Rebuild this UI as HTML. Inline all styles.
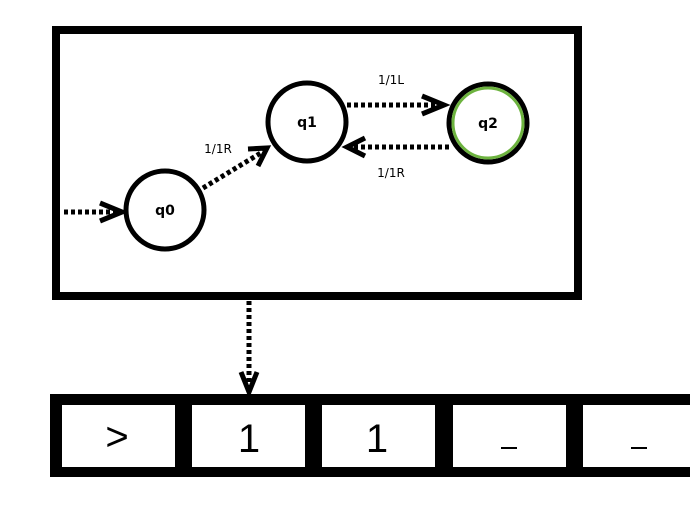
<!DOCTYPE html>
<html><head><style>body{margin:0;background:#fff}svg{display:block}</style></head><body>
<svg width="690" height="520" viewBox="0 0 690 520" xmlns="http://www.w3.org/2000/svg" font-family="'DejaVu Sans','Liberation Sans',sans-serif">
<rect x="56" y="30" width="522" height="266" fill="none" stroke="#000" stroke-width="8"/>
<g stroke="#000" stroke-width="5" fill="none" stroke-dasharray="4 3">
<line x1="64" y1="212" x2="120" y2="212"/>
<line x1="203" y1="188" x2="264" y2="151"/>
<line x1="347" y1="105" x2="440" y2="105"/>
<line x1="449" y1="147" x2="352" y2="147"/>
<line x1="249" y1="301" x2="249" y2="386"/>
</g>
<g stroke="#000" stroke-width="5" fill="none">
<polyline points="100,203 122,212 100,221"/>
<polyline points="248,149 267,148 258,166"/>
<polyline points="422,96 444,105 422,114"/>
<polyline points="365,138 347,147 365,156"/>
<polyline points="241,372 249,392 257,372"/>
</g>
<circle cx="165" cy="210" r="39" fill="#fff" stroke="#000" stroke-width="5"/>
<circle cx="307" cy="122" r="39" fill="#fff" stroke="#000" stroke-width="5"/>
<circle cx="488" cy="123" r="39" fill="#fff" stroke="#000" stroke-width="5"/>
<circle cx="488" cy="123" r="35" fill="none" stroke="#6db33f" stroke-width="3"/>
<g font-size="14" font-weight="bold" text-anchor="middle">
<text x="165" y="215">q0</text><text x="307" y="127">q1</text><text x="488" y="128">q2</text>
</g>
<g font-size="12" text-anchor="middle">
<text x="391" y="84">1/1L</text><text x="218" y="153">1/1R</text><text x="391" y="177">1/1R</text>
</g>
<rect x="50" y="394" width="650" height="83" fill="#000"/>
<g fill="#fff">
<rect x="62" y="405" width="113" height="62"/>
<rect x="192" y="405" width="113" height="62"/>
<rect x="322" y="405" width="113" height="62"/>
<rect x="453" y="405" width="113" height="62"/>
<rect x="583" y="405" width="110" height="62"/>
</g>
<g font-size="40" text-anchor="middle" font-family="'Liberation Sans',sans-serif">
<text x="117" y="450">&gt;</text><text x="249" y="452">1</text><text x="377" y="452">1</text>
</g>
<rect x="501" y="447" width="16" height="2" fill="#000"/>
<rect x="631" y="447" width="16" height="2" fill="#000"/>
</svg>
</body></html>
